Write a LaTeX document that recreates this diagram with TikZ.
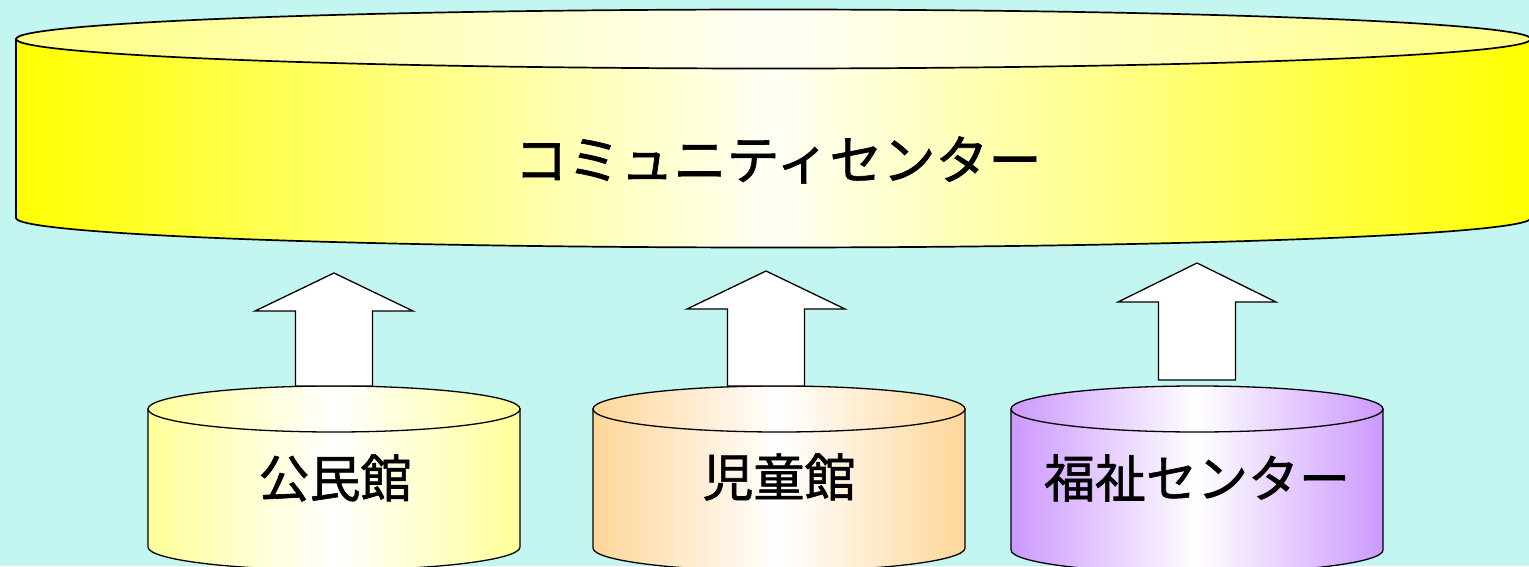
\documentclass[tikz,border=0pt]{standalone}
\usepackage{fontspec}
\newfontfamily\jpfont[FakeBold=1.2]{Noto Sans CJK JP}
\usetikzlibrary{calc}
\definecolor{bgcyan}{HTML}{C3F5F1}
\definecolor{ccyellow}{HTML}{FFFF00}
\definecolor{ccyellowtop}{HTML}{FFFF80}
\definecolor{kminyellow}{HTML}{FFFF99}
\definecolor{jidopeach}{HTML}{FFD699}
\definecolor{fukuviolet}{HTML}{CC99FF}
\tikzset{
  drumline/.style={draw=black, line width=1.3pt},
  bigdrumline/.style={draw=black, line width=1.7pt},
  blockarrow/.style={draw=black, fill=white, line width=1.3pt, line join=miter},
  biglabel/.style={font=\jpfont\fontsize{53}{60}\selectfont, text=black, inner sep=0pt},
  smalllabel/.style={font=\jpfont\fontsize{51}{58}\selectfont, text=black, inner sep=0pt},
}
% #1 cx, #2 top centre y, #3 bottom centre y, #4 rx, #5 ry, #6 side edge colour, #7 top edge colour, #8 centre colour, #9 style
\newcommand\drumshape[9]{%
  \path[#9, left color=#6, right color=#6, middle color=#8]
    ({#1-#4},{#2}) -- ({#1-#4},{#3})
    arc[start angle=180, end angle=360, x radius=#4, y radius=#5]
    -- ({#1+#4},{#2}) -- cycle;
  \path[#9, left color=#7, right color=#7, middle color=#8]
    (#1,#2) ellipse [x radius=#4, y radius=#5];
}
% #1 start coordinate (bottom centre), #2 shaft height, #3 head height
\newcommand\upblock[3]{%
  \draw[blockarrow] (#1) ++(-38.5,0) -- ++(0,#2) -- ++(-40.5,0) -- ++(79,#3)
    -- ++(79,-#3) -- ++(-40.5,0) -- ++(0,-#2) -- cycle;
}
\begin{document}
\begin{tikzpicture}[x=1pt,y=1pt]
\useasboundingbox (0,0) rectangle (1529,566);
\fill[bgcyan] (0,0) rectangle (1529,566);

% big cylinder
\begin{scope}
\clip (0,0) rectangle (1529,566);
\drumshape{773.5}{527}{348}{757.5}{29.5}{ccyellow}{ccyellowtop}{yellow!4}{bigdrumline}
\end{scope}
\node[biglabel] (cc) at (778,406) {コミュニティセンター};

% small cylinders
\drumshape{334}{157}{19}{186}{23}{kminyellow}{kminyellow}{white}{drumline}
\drumshape{779}{157}{18}{186}{23}{jidopeach}{jidopeach}{white}{drumline}
\drumshape{1197}{157}{16}{186}{23}{fukuviolet}{fukuviolet}{white}{drumline}

\node[smalllabel] (kmin) at (335,88) {公民館};
\node[smalllabel] (jido) at (779,89) {児童館};
\node[smalllabel] (fuku) at (1197,88) {福祉センター};

% arrow start points
\coordinate (kmintop) at (334,180);
\coordinate (jidotop) at (766,180);
\coordinate (fukutop) at (1197,186);

\upblock{kmintop}{75}{38}
\upblock{jidotop}{77}{38}
\upblock{fukutop}{78}{39}
\end{tikzpicture}
\end{document}
